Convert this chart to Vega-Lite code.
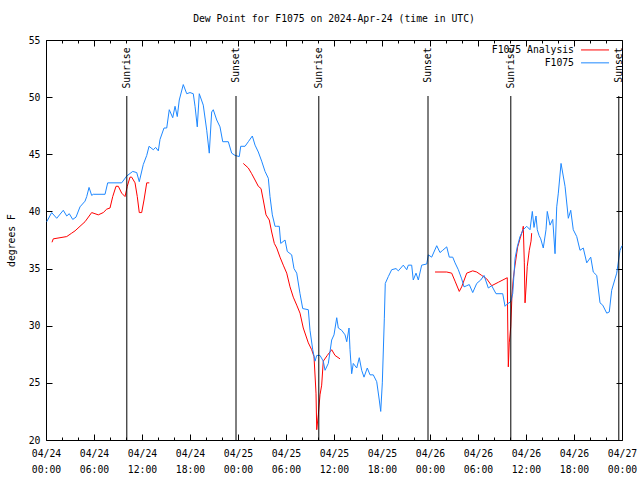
{
  "$schema": "https://vega.github.io/schema/vega-lite/v6.json",
  "width": 576,
  "height": 400,
  "autosize": {"type": "none"},
  "padding": {"left": 46, "top": 40, "right": 18, "bottom": 40},
  "background": "white",
  "config": {
    "font": "DejaVu Sans Mono",
    "view": {"stroke": "black", "strokeWidth": 1},
    "axis": {"labelFont": "DejaVu Sans Mono", "labelFontSize": 9.75, "labelColor": "black", "titleFont": "DejaVu Sans Mono", "titleFontSize": 9.75, "titleFontWeight": "normal", "titleColor": "black", "domain": false, "tickColor": "black", "grid": false}
  },
  "title": {"text": "Dew Point for F1075 on 2024-Apr-24 (time in UTC)", "font": "DejaVu Sans Mono", "fontSize": 9.75, "fontWeight": "normal", "anchor": "middle", "offset": 11, "color": "black"},
  "datasets": {
    "obs": [
      {"h":0.09,"v":39.1},{"h":0.71,"v":39.9},{"h":1.34,"v":39.4},{"h":2.16,"v":40.1},{"h":2.59,"v":39.6},{"h":2.91,"v":39.8},{"h":3.34,"v":39.3},{"h":3.75,"v":39.5},{"h":4.25,"v":40.4},{"h":4.88,"v":40.9},{"h":5.09,"v":41.3},{"h":5.38,"v":42.1},{"h":5.71,"v":41.4},{"h":5.91,"v":41.5},{"h":7.38,"v":41.5},{"h":7.71,"v":42.5},{"h":9.46,"v":42.5},{"h":10.09,"v":43.1},{"h":10.84,"v":43.5},{"h":11.34,"v":43.4},{"h":11.66,"v":42.6},{"h":12.16,"v":44.1},{"h":12.59,"v":44.9},{"h":12.88,"v":45.7},{"h":13.41,"v":45.4},{"h":13.71,"v":45.6},{"h":14.04,"v":45.3},{"h":14.25,"v":46.3},{"h":14.75,"v":47.3},{"h":15.09,"v":47.3},{"h":15.41,"v":48.9},{"h":15.84,"v":48.2},{"h":16.13,"v":49.2},{"h":16.41,"v":48.3},{"h":16.66,"v":49.75},{"h":17.16,"v":51.1},{"h":17.59,"v":50.3},{"h":18.0,"v":50.4},{"h":18.41,"v":50.3},{"h":18.63,"v":49.2},{"h":18.91,"v":47.4},{"h":19.16,"v":50.3},{"h":19.66,"v":49.3},{"h":20.09,"v":47.1},{"h":20.41,"v":45.1},{"h":20.71,"v":48.7},{"h":20.91,"v":48.9},{"h":21.34,"v":48.0},{"h":21.75,"v":47.4},{"h":22.09,"v":46.1},{"h":22.79,"v":46.1},{"h":23.21,"v":45.1},{"h":23.63,"v":44.9},
      {"h":24.16,"v":44.8},{"h":24.34,"v":45.7},{"h":24.88,"v":45.7},{"h":25.29,"v":46.1},{"h":25.79,"v":46.6},{"h":26.13,"v":45.8},{"h":26.54,"v":45.2},{"h":26.96,"v":44.4},{"h":27.38,"v":43.5},{"h":27.79,"v":42.9},{"h":28.0,"v":41.3},{"h":28.29,"v":39.7},{"h":28.63,"v":38.7},{"h":28.84,"v":38.7},{"h":29.16,"v":38.7},{"h":29.34,"v":37.2},{"h":29.88,"v":37.5},{"h":30.16,"v":36.5},{"h":30.71,"v":36.2},{"h":31.0,"v":35.0},{"h":31.34,"v":34.6},{"h":31.75,"v":32.8},{"h":32.09,"v":31.5},{"h":32.79,"v":31.4},{"h":33.0,"v":29.6},{"h":33.34,"v":27.9},{"h":33.63,"v":26.9},{"h":33.84,"v":27.4},{"h":34.25,"v":27.4},{"h":34.66,"v":26.9},{"h":34.88,"v":26.1},{"h":35.29,"v":26.7},{"h":35.71,"v":28.75},{"h":36.0,"v":29.2},{"h":36.34,"v":30.7},{"h":36.54,"v":29.8},{"h":36.96,"v":29.6},{"h":37.38,"v":29.2},{"h":37.59,"v":28.6},{"h":37.88,"v":29.8},{"h":38.0,"v":27.9},{"h":38.21,"v":25.8},{"h":38.41,"v":26.7},{"h":38.84,"v":26.3},{"h":39.16,"v":27.2},{"h":39.46,"v":26.1},{"h":39.75,"v":25.5},{"h":40.16,"v":26.3},{"h":40.5,"v":25.7},{"h":40.91,"v":25.7},{"h":41.34,"v":25.1},{"h":41.66,"v":23.5},{"h":41.84,"v":22.5},{"h":42.04,"v":25.0},{"h":42.29,"v":30.6},{"h":42.41,"v":33.7},{"h":42.79,"v":34.3},{"h":43.21,"v":34.9},{"h":43.75,"v":35.0},{"h":44.04,"v":34.8},{"h":44.66,"v":35.3},{"h":45.09,"v":34.9},{"h":45.29,"v":35.3},{"h":45.71,"v":35.3},{"h":45.91,"v":34.0},{"h":46.25,"v":34.6},{"h":46.54,"v":34.0},{"h":46.96,"v":35.3},{"h":47.59,"v":35.4},{"h":47.79,"v":36.2},
      {"h":48.21,"v":36.0},{"h":48.84,"v":37.0},{"h":49.25,"v":36.4},{"h":49.59,"v":36.6},{"h":50.09,"v":36.9},{"h":50.41,"v":36.0},{"h":50.84,"v":36.0},{"h":51.13,"v":35.5},{"h":51.54,"v":34.9},{"h":51.96,"v":34.1},{"h":52.25,"v":33.4},{"h":52.59,"v":33.5},{"h":52.91,"v":33.6},{"h":53.34,"v":32.9},{"h":53.84,"v":33.7},{"h":54.34,"v":34.0},{"h":54.75,"v":34.4},{"h":55.29,"v":33.3},{"h":55.71,"v":33.5},{"h":56.25,"v":32.8},{"h":57.09,"v":32.8},{"h":57.38,"v":31.7},{"h":57.66,"v":31.9},{"h":58.09,"v":32.1},{"h":58.34,"v":32.8},{"h":58.63,"v":35.9},{"h":58.91,"v":36.9},{"h":59.25,"v":37.8},{"h":59.66,"v":38.4},{"h":60.09,"v":38.7},{"h":60.5,"v":38.4},{"h":60.79,"v":40.0},{"h":61.0,"v":38.6},{"h":61.25,"v":39.6},{"h":61.41,"v":38.4},{"h":61.63,"v":37.9},{"h":61.84,"v":37.6},{"h":62.16,"v":36.8},{"h":62.5,"v":38.4},{"h":62.66,"v":40.0},{"h":63.0,"v":38.8},{"h":63.34,"v":39.3},{"h":63.63,"v":36.3},{"h":63.84,"v":40.4},{"h":64.04,"v":41.6},{"h":64.38,"v":44.2},{"h":64.88,"v":42.2},{"h":65.29,"v":39.4},{"h":65.59,"v":40.1},{"h":65.91,"v":38.4},{"h":66.34,"v":37.8},{"h":66.75,"v":36.6},{"h":67.16,"v":36.8},{"h":67.59,"v":35.5},{"h":68.09,"v":36.0},{"h":68.41,"v":34.7},{"h":68.84,"v":34.4},{"h":69.25,"v":32.0},{"h":69.59,"v":31.8},{"h":70.09,"v":31.1},{"h":70.41,"v":31.2},{"h":70.71,"v":33.1},{"h":71.13,"v":34.1},{"h":71.34,"v":34.6},{"h":71.75,"v":36.6},{"h":72.0,"v":37.0}
    ],
    "analysis": [
      {"h":0.75,"seg":"a","v":37.3},{"h":0.91,"seg":"a","v":37.6},{"h":1.75,"seg":"a","v":37.7},{"h":2.59,"seg":"a","v":37.8},{"h":3.21,"seg":"a","v":38.1},{"h":3.63,"seg":"a","v":38.3},{"h":4.25,"seg":"a","v":38.7},{"h":4.88,"seg":"a","v":39.1},{"h":5.71,"seg":"a","v":39.9},{"h":6.54,"seg":"a","v":39.7},{"h":7.16,"seg":"a","v":39.9},{"h":7.59,"seg":"a","v":40.2},{"h":8.0,"seg":"a","v":40.3},{"h":8.34,"seg":"a","v":41.3},{"h":8.75,"seg":"a","v":42.2},{"h":9.04,"seg":"a","v":42.2},{"h":9.46,"seg":"a","v":41.6},{"h":9.88,"seg":"a","v":41.3},{"h":10.16,"seg":"a","v":42.2},{"h":10.5,"seg":"a","v":43.0},{"h":10.71,"seg":"a","v":43.0},{"h":11.13,"seg":"a","v":42.5},{"h":11.41,"seg":"a","v":41.3},{"h":11.66,"seg":"a","v":39.9},{"h":11.96,"seg":"a","v":39.9},{"h":12.25,"seg":"a","v":41.0},{"h":12.59,"seg":"a","v":42.5},{"h":12.91,"seg":"a","v":42.5},
      {"h":24.66,"seg":"b","v":44.2},{"h":25.29,"seg":"b","v":43.8},{"h":25.71,"seg":"b","v":43.3},{"h":26.13,"seg":"b","v":42.75},{"h":26.54,"seg":"b","v":42.2},{"h":26.88,"seg":"b","v":42.0},{"h":27.16,"seg":"b","v":41.0},{"h":27.5,"seg":"b","v":39.7},{"h":27.91,"seg":"b","v":39.25},{"h":28.21,"seg":"b","v":38.2},{"h":28.54,"seg":"b","v":37.2},{"h":28.84,"seg":"b","v":36.8},{"h":29.25,"seg":"b","v":36.0},{"h":29.66,"seg":"b","v":35.3},{"h":30.09,"seg":"b","v":34.6},{"h":30.5,"seg":"b","v":33.4},{"h":30.91,"seg":"b","v":32.5},{"h":31.34,"seg":"b","v":31.8},{"h":31.75,"seg":"b","v":31.1},{"h":32.16,"seg":"b","v":29.8},{"h":32.79,"seg":"b","v":28.5},{"h":33.21,"seg":"b","v":27.9},{"h":33.5,"seg":"b","v":27.3},{"h":33.75,"seg":"b","v":24.1},{"h":33.84,"seg":"b","v":20.9},{"h":34.04,"seg":"b","v":22.2},{"h":34.25,"seg":"b","v":23.95},{"h":34.46,"seg":"b","v":24.8},{"h":34.66,"seg":"b","v":26.9},{"h":35.16,"seg":"b","v":27.4},{"h":35.71,"seg":"b","v":27.9},{"h":36.13,"seg":"b","v":27.4},{"h":36.75,"seg":"b","v":27.1},
      {"h":48.63,"seg":"c","v":34.7},{"h":50.09,"seg":"c","v":34.7},{"h":50.71,"seg":"c","v":34.6},{"h":51.13,"seg":"c","v":33.9},{"h":51.66,"seg":"c","v":33.0},{"h":51.96,"seg":"c","v":33.4},{"h":52.59,"seg":"c","v":34.6},{"h":53.34,"seg":"c","v":34.8},{"h":53.84,"seg":"c","v":34.7},{"h":54.46,"seg":"c","v":34.4},{"h":55.09,"seg":"c","v":34.1},{"h":55.71,"seg":"c","v":33.5},{"h":56.54,"seg":"c","v":33.8},{"h":57.66,"seg":"c","v":34.2},{"h":57.71,"seg":"c","v":30.5},{"h":57.79,"seg":"c","v":26.4},{"h":57.91,"seg":"c","v":28.5},{"h":58.09,"seg":"c","v":29.9},{"h":58.25,"seg":"c","v":32.7},{"h":58.41,"seg":"c","v":34.1},{"h":58.63,"seg":"c","v":35.3},{"h":58.96,"seg":"c","v":36.9},{"h":59.25,"seg":"c","v":37.6},{"h":59.59,"seg":"c","v":38.4},{"h":59.66,"seg":"c","v":38.7},{"h":59.79,"seg":"c","v":35.5},{"h":59.88,"seg":"c","v":32.0},{"h":60.0,"seg":"c","v":33.3},{"h":60.16,"seg":"c","v":35.2},{"h":60.41,"seg":"c","v":36.6},{"h":60.63,"seg":"c","v":37.4},{"h":60.71,"seg":"c","v":38.1}
    ],
    "sun": [
      {"h":10.1,"label":"Sunrise"},
      {"h":23.75,"label":"Sunset"},
      {"h":34.1,"label":"Sunrise"},
      {"h":47.75,"label":"Sunset"},
      {"h":58.1,"label":"Sunrise"},
      {"h":71.6,"label":"Sunset"}
    ]
  },
  "layer": [
    {
      "data": {"name": "analysis"},
      "mark": {"type": "line", "color": "#ff0000", "strokeWidth": 1},
      "encoding": {
        "x": {"field": "h", "type": "quantitative", "title": null,
          "scale": {"domain": [0, 72], "nice": false, "zero": false},
          "axis": {"orient": "bottom", "values": [0, 6, 12, 18, 24, 30, 36, 42, 48, 54, 60, 66, 72],
            "labelExpr": "['04/' + (24 + floor(datum.value / 24)), (datum.value % 24 < 10 ? '0' : '') + (datum.value % 24) + ':00']",
            "tickSize": -6, "labelPadding": 14, "labelFlush": false, "labelOverlap": false, "labelBound": false, "labelLineHeight": 16, "labelBaseline": "top"}},
        "y": {"field": "v", "type": "quantitative", "title": "degrees F",
          "scale": {"domain": [20, 55], "nice": false, "zero": false},
          "axis": {"orient": "left", "values": [20, 25, 30, 35, 40, 45, 50, 55], "tickSize": -6, "labelPadding": 12, "titlePadding": 12}},
        "detail": {"field": "seg"}
      }
    },
    {
      "data": {"name": "obs"},
      "mark": {"type": "line", "color": "#1e88ff", "strokeWidth": 1},
      "encoding": {
        "x": {"field": "h", "type": "quantitative", "title": null,
          "axis": {"orient": "bottom", "labels": false, "values": [2, 4, 8, 10, 14, 16, 20, 22, 26, 28, 32, 34, 38, 40, 44, 46, 50, 52, 56, 58, 62, 64, 68, 70], "tickSize": -3}},
        "y": {"field": "v", "type": "quantitative", "title": null,
          "axis": {"orient": "right", "labels": false, "values": [20, 25, 30, 35, 40, 45, 50, 55], "tickSize": -6}}
      }
    },
    {
      "data": {"name": "sun"},
      "mark": {"type": "rule", "color": "black", "strokeWidth": 1},
      "encoding": {
        "x": {"field": "h", "type": "quantitative", "title": null,
          "axis": {"orient": "top", "labels": false, "values": [0, 6, 12, 18, 24, 30, 36, 42, 48, 54, 60, 66, 72], "tickSize": -6}},
        "y": {"datum": 50.1, "type": "quantitative", "axis": null},
        "y2": {"datum": 20}
      }
    },
    {
      "data": {"name": "sun"},
      "mark": {"type": "text", "angle": 270, "align": "right", "baseline": "middle", "font": "DejaVu Sans Mono", "fontSize": 9.75, "color": "black"},
      "encoding": {
        "x": {"field": "h", "type": "quantitative", "title": null,
          "axis": {"orient": "top", "labels": false, "values": [2, 4, 8, 10, 14, 16, 20, 22, 26, 28, 32, 34, 38, 40, 44, 46, 50, 52, 56, 58, 62, 64, 68, 70], "tickSize": -3}},
        "y": {"datum": 54.35, "type": "quantitative", "axis": null},
        "text": {"field": "label"}
      }
    },
    {
      "data": {"values": [{"label": "F1075 Analysis"}]},
      "mark": {"type": "text", "align": "right", "baseline": "middle", "font": "DejaVu Sans Mono", "fontSize": 9.75, "color": "black"},
      "encoding": {
        "x": {"datum": 66.0, "type": "quantitative", "axis": null},
        "y": {"datum": 54.13, "type": "quantitative", "axis": null},
        "text": {"field": "label"}
      }
    },
    {
      "data": {"values": [{"label": "F1075"}]},
      "mark": {"type": "text", "align": "right", "baseline": "middle", "font": "DejaVu Sans Mono", "fontSize": 9.75, "color": "black"},
      "encoding": {
        "x": {"datum": 66.0, "type": "quantitative", "axis": null},
        "y": {"datum": 53.0, "type": "quantitative", "axis": null},
        "text": {"field": "label"}
      }
    },
    {
      "data": {"values": [{"label": "F1075 Analysis"}]},
      "mark": {"type": "rule", "color": "#ff0000", "strokeWidth": 1},
      "encoding": {
        "x": {"datum": 66.88, "type": "quantitative", "axis": null},
        "x2": {"datum": 70.38},
        "y": {"datum": 54.13, "type": "quantitative", "axis": null}
      }
    },
    {
      "data": {"values": [{"label": "F1075"}]},
      "mark": {"type": "rule", "color": "#1e88ff", "strokeWidth": 1},
      "encoding": {
        "x": {"datum": 66.88, "type": "quantitative", "axis": null},
        "x2": {"datum": 70.38},
        "y": {"datum": 53.0, "type": "quantitative", "axis": null}
      }
    }
  ],
  "resolve": {"axis": {"x": "independent", "y": "independent"}}
}
